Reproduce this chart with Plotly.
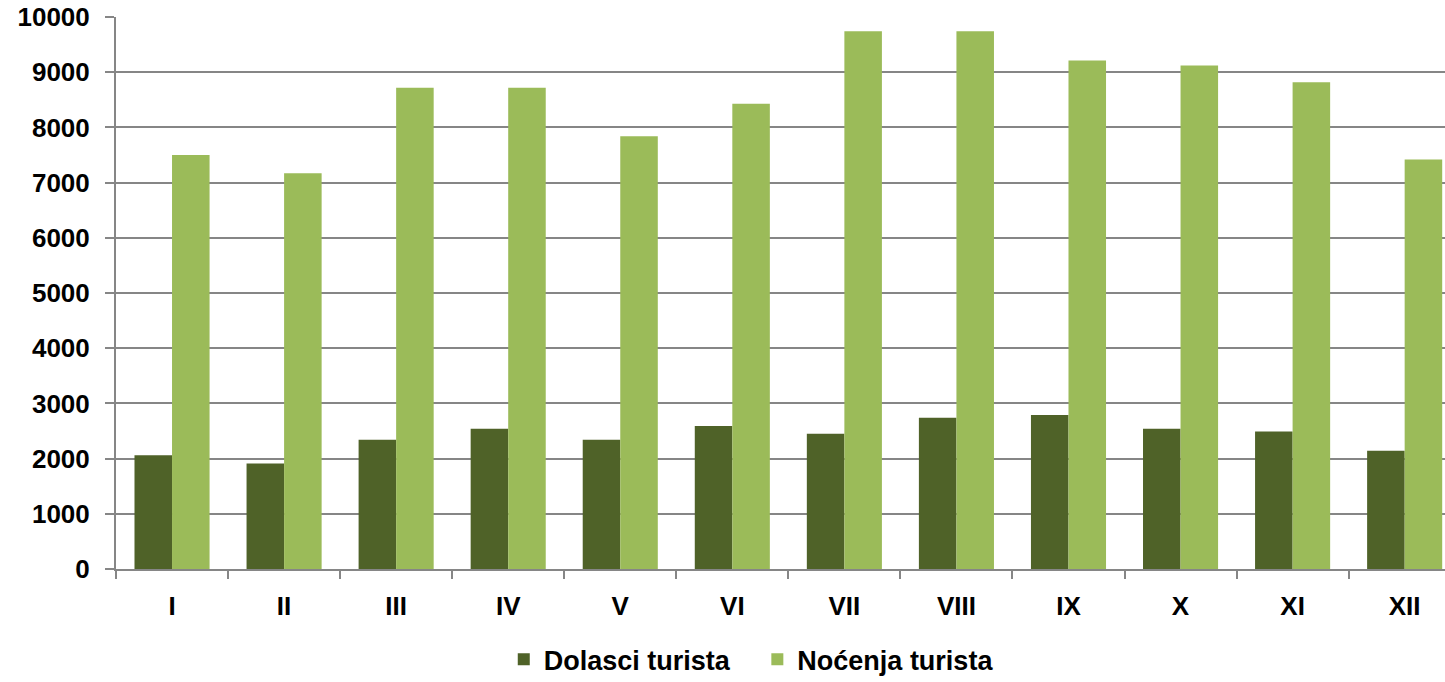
import plotly.graph_objects as go

months = ["I", "II", "III", "IV", "V", "VI", "VII", "VIII", "IX", "X", "XI", "XII"]
dolasci = [2060, 1910, 2340, 2540, 2340, 2590, 2450, 2740, 2790, 2540, 2490, 2140]
nocenja = [7500, 7170, 8720, 8720, 7840, 8430, 9740, 9740, 9210, 9120, 8820, 7420]
y_ticks = [0, 1000, 2000, 3000, 4000, 5000, 6000, 7000, 8000, 9000, 10000]
y_tick_labels = ["0", "1000", "2000", "3000", "4000", "5000", "6000", "7000", "8000", "9000", "10000"]

font_family = "Liberation Sans, Arial, sans-serif"

fig = go.Figure()
fig.add_trace(go.Bar(x=months, y=dolasci, name="Dolasci turista\u00a0\u00a0\u00a0",
                     marker=dict(color="#4F6228", line=dict(width=0))))
fig.add_trace(go.Bar(x=months, y=nocenja, name="Noćenja turista",
                     marker=dict(color="#9BBB59", line=dict(width=0))))

fig.update_layout(
    width=1445, height=682,
    margin=dict(l=116, r=0, t=17, b=113, autoexpand=False),
    paper_bgcolor="white", plot_bgcolor="white",
    barmode="group", bargap=0.33, bargroupgap=0,
    font=dict(family=font_family, size=26, color="black", weight="bold"),
    showlegend=True,
    legend=dict(orientation="h", x=0.478, xanchor="center", y=-0.12, yanchor="top",
                font=dict(size=27, weight="bold"), itemwidth=30, tracegroupgap=0),
)
fig.update_xaxes(
    range=[-0.5, 11.36], showline=True, linecolor="#868686", linewidth=2,
    ticks="outside", tickson="boundaries", ticklen=8, tickcolor="#868686", tickwidth=2,
    showgrid=False, tickfont=dict(size=26, weight="bold"), fixedrange=True,
    ticklabelstandoff=13, automargin=False,
)
fig.update_yaxes(
    range=[0, 10000], tickvals=y_ticks, ticktext=y_tick_labels,
    showline=True, linecolor="#868686", linewidth=2,
    ticks="outside", ticklen=9, tickcolor="#868686", tickwidth=2,
    showgrid=True, gridcolor="#868686", gridwidth=2, zeroline=False,
    tickfont=dict(size=26, weight="bold"), ticklabelstandoff=10, automargin=False,
)

fig.write_html("out.html")
